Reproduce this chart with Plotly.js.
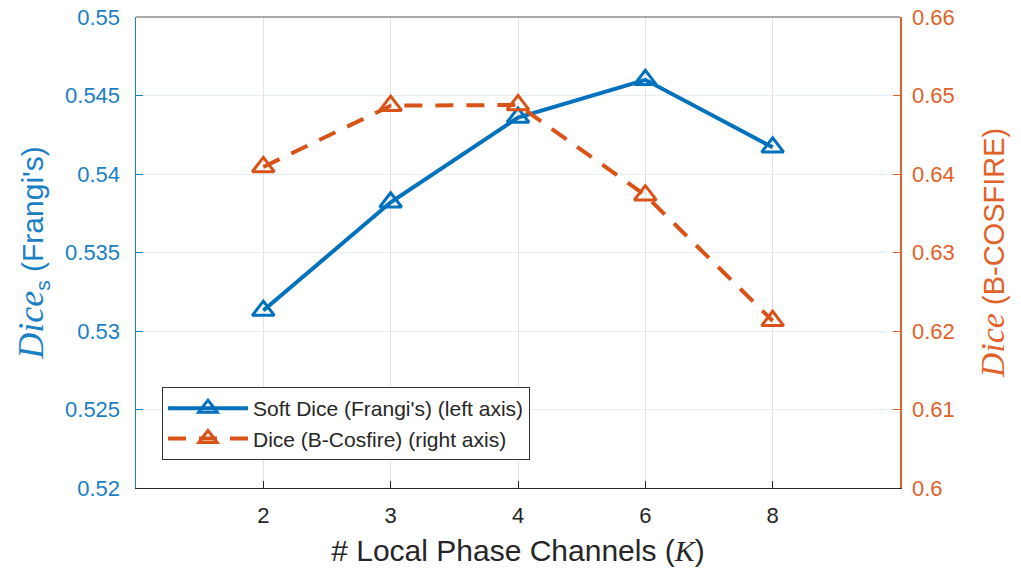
<!DOCTYPE html>
<html>
<head>
<meta charset="utf-8">
<script src="https://cdn.plot.ly/plotly-3.0.1.min.js"></script>
<style>html,body{margin:0;padding:0;background:#fff;}#chart{width:1021px;height:585px;}</style>
</head>
<body>
<div id="chart"></div>
<script>
const channels = ['2', '3', '4', '6', '8'];
const softDiceFrangi = [0.5313, 0.5382, 0.5436, 0.5460, 0.5417];
const diceBCosfire = [0.6409, 0.6487, 0.6488, 0.6373, 0.6213];
const leftTicks = [0.52, 0.525, 0.53, 0.535, 0.54, 0.545, 0.55];
const leftTickText = ['0.52', '0.525', '0.53', '0.535', '0.54', '0.545', '0.55'];
const rightTicks = [0.6, 0.61, 0.62, 0.63, 0.64, 0.65, 0.66];
const rightTickText = ['0.6', '0.61', '0.62', '0.63', '0.64', '0.65', '0.66'];

const blue = '#0072BD';
const orange = '#D95319';
const blueTxt = '#1a80c6';
const orangeTxt = '#e0622a';

const traces = [
  {
    x: channels, y: softDiceFrangi, name: "Soft Dice (Frangi's) (left axis)",
    type: 'scatter', mode: 'lines+markers', yaxis: 'y',
    line: {color: blue, width: 4},
    marker: {symbol: 'triangle-up-open', size: 19, color: blue, line: {width: 3, color: blue}}
  },
  {
    x: channels, y: diceBCosfire, name: 'Dice (B-Cosfire) (right axis)',
    type: 'scatter', mode: 'lines+markers', yaxis: 'y2',
    line: {color: orange, width: 4, dash: '18px,13px'},
    marker: {symbol: 'triangle-up-open', size: 19, color: orange, line: {width: 3, color: orange}}
  }
];

const layout = {
  width: 1021, height: 585,
  margin: {l: 136, r: 121, t: 17, b: 97},
  paper_bgcolor: '#fff', plot_bgcolor: '#fff',
  font: {family: 'Liberation Sans, Arial, sans-serif', color: '#262626'},
  showlegend: true,
  legend: {
    x: 0.034, y: 0.2144, xanchor: 'left', yanchor: 'top',
    bgcolor: '#fff', bordercolor: '#333', borderwidth: 1,
    font: {size: 21, color: '#262626'}, itemwidth: 80,
    tracegroupgap: 0
  },
  xaxis: {
    type: 'category', range: [-1, 5],
    tickvals: channels, ticktext: channels,
    tickfont: {size: 22, color: '#262626'},
    ticks: 'inside', ticklen: 7, tickcolor: '#262626',
    ticklabelstandoff: 8,
    showgrid: true, gridcolor: '#dfe3e8', gridwidth: 1,
    showline: true, linecolor: '#262626', linewidth: 1, mirror: false,
    zeroline: false,
    title: {text: '# Local Phase Channels (<i><span style="font-family:Liberation Serif">K</span></i>)', font: {size: 30, color: '#262626'}, standoff: 12}
  },
  yaxis: {
    range: [0.52, 0.55], tickvals: leftTicks, ticktext: leftTickText,
    tickfont: {size: 22, color: blueTxt},
    ticks: 'inside', ticklen: 7, tickcolor: blueTxt,
    ticklabelstandoff: 10,
    showgrid: true, gridcolor: '#e3eef8', gridwidth: 1,
    showline: true, linecolor: blueTxt, linewidth: 1.5,
    zeroline: false,
    title: {text: '<i><span style="font-family:Liberation Serif;font-size:36px">Dice</span></i><sub>s</sub> (Frangi\'s)', font: {size: 30, color: blueTxt}, standoff: 12}
  },
  yaxis2: {
    overlaying: 'y', side: 'right',
    range: [0.6, 0.66], tickvals: rightTicks, ticktext: rightTickText,
    tickfont: {size: 22, color: orangeTxt},
    ticks: 'inside', ticklen: 7, tickcolor: orangeTxt,
    ticklabelstandoff: 6,
    showgrid: false,
    showline: true, linecolor: orangeTxt, linewidth: 1.5,
    zeroline: false,
    title: {text: '<i><span style="font-family:Liberation Serif;font-size:34px">Dice</span></i> (B-COSFIRE)', font: {size: 29, color: orangeTxt}, standoff: 30}
  },
  shapes: [
    {type: 'line', xref: 'paper', yref: 'paper', x0: 0, x1: 1, y0: 1, y1: 1, line: {color: '#8c8c8c', width: 1.5}}
  ]
};

Plotly.newPlot('chart', traces, layout, {displayModeBar: false, staticPlot: true});
</script>
</body>
</html>
